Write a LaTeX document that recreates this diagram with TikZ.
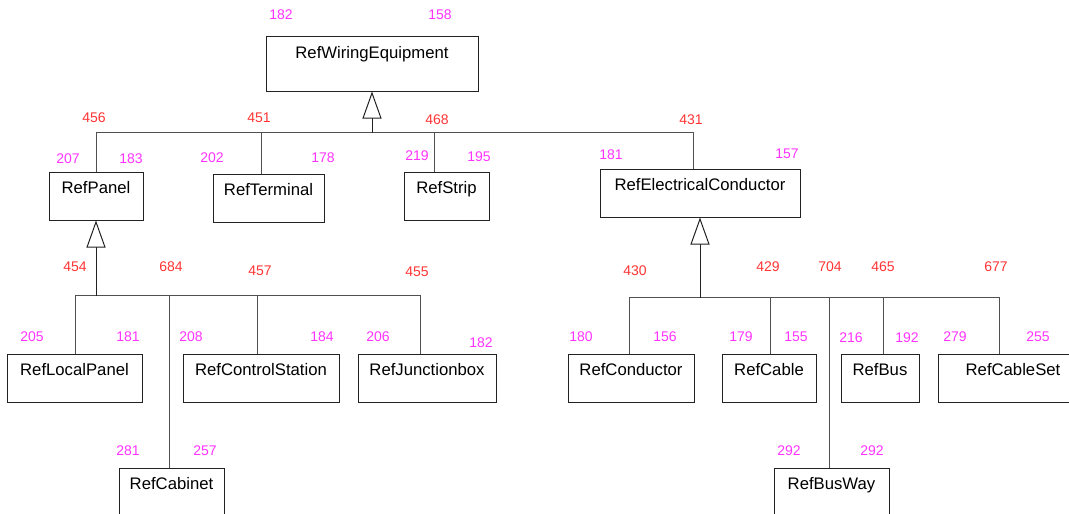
\documentclass[tikz,border=0pt]{standalone}
\usepackage{fontspec}
\setmainfont{Liberation Sans}
\usetikzlibrary{arrows.meta}
\definecolor{numred}{HTML}{FF3333}
\definecolor{nummag}{HTML}{FF33FF}
\definecolor{boxline}{HTML}{222222}
\definecolor{conline}{HTML}{505050}
\newcommand{\bxt}[1]{\raisebox{2.5pt}[0pt][0pt]{#1}}
\tikzset{
  cls/.style={draw=boxline, line width=1pt, fill=white, rectangle, minimum height=48pt, inner sep=0pt,
    font=\fontsize{16.7}{19}\selectfont},
  rn/.style={text=numred, inner sep=0pt, font=\fontsize{14}{15}\selectfont},
  mn/.style={text=nummag, inner sep=0pt, font=\fontsize{14}{15}\selectfont},
  con/.style={draw=conline, line width=1pt},
  inh/.style={draw=boxline, line width=1pt, -{Triangle[open, length=27pt, width=19pt, line width=1pt, fill=white]}},
}
\begin{document}
\begin{tikzpicture}[x=1pt, y=-1pt]
\useasboundingbox (0,0) rectangle (1069,514);
\clip (0,0) rectangle (1069,514);

% ---- boxes ----
\node[cls, minimum width=212pt, minimum height=55pt] (we) at (372,63.5) {\raisebox{5.5pt}[0pt][0pt]{RefWiringEquipment}};
\node[cls, minimum width=94pt] (panel) at (96,196) {\bxt{RefPanel}};
\node[cls, minimum width=111pt] (term) at (268.5,198) {\bxt{RefTerminal}};
\node[cls, minimum width=85pt] (strip) at (446.5,196) {\bxt{RefStrip}};
\node[cls, minimum width=200pt] (elec) at (700,193) {\bxt{RefElectricalConductor}};
\node[cls, minimum width=135pt] (localp) at (74.5,378) {\bxt{RefLocalPanel}};
\node[cls, minimum width=156pt] (ctrl) at (261,378) {\bxt{RefControlStation}};
\node[cls, minimum width=138pt] (junc) at (427,378) {\bxt{RefJunctionbox}};
\node[cls, minimum width=105pt] (cab) at (171.5,492) {\bxt{RefCabinet}};
\node[cls, minimum width=126pt] (cond) at (631,378) {\bxt{RefConductor}};
\node[cls, minimum width=94pt] (cable) at (769,378) {\bxt{RefCable}};
\node[cls, minimum width=78pt] (bus) at (880,378) {\bxt{RefBus}};
\node[cls, minimum width=150pt] (cset) at (1013,378) {\bxt{RefCableSet}};
\node[cls, minimum width=115pt] (busway) at (831.5,492) {\bxt{RefBusWay}};

% ---- connector coordinates ----
\coordinate (j1) at (372,132.5);
\coordinate (j2) at (96,295.5);
\coordinate (j3) at (700,297.5);

% ---- tree 1 ----
\draw[con] (panel.north -| 96,0) |- (j1) -| (elec.north -| 693,0);
\draw[con] (term.north -| 261,0) -- (261,132.5);
\draw[con] (strip.north -| 434,0) -- (434,132.5);
\draw[inh] (j1) -- (we.south);

% ---- tree 2 ----
\draw[con] (localp.north -| 75,0) |- (j2) -| (junc.north -| 420,0);
\draw[con] (cab.north -| 169,0) -- (169,295.5);
\draw[con] (ctrl.north -| 257,0) -- (257,295.5);
\draw[inh] (j2) -- (panel.south);

% ---- tree 3 ----
\draw[con] (cond.north -| 629,0) |- (j3) -| (cset.north -| 999,0);
\draw[con] (cable.north -| 770,0) -- (770,297.5);
\draw[con] (busway.north -| 829,0) -- (829,297.5);
\draw[con] (bus.north -| 883,0) -- (883,297.5);
\draw[inh] (j3) -- (elec.south);

% ---- numbers ----
\node[mn] (n1) at (281,15) {182};
\node[mn] (n2) at (440,15) {158};
\node[rn] (n3) at (94,118) {456};
\node[rn] (n4) at (259,118) {451};
\node[rn] (n5) at (437,120) {468};
\node[rn] (n6) at (691,120) {431};
\node[mn] (n7) at (68,159) {207};
\node[mn] (n8) at (131,159) {183};
\node[mn] (n9) at (212,158) {202};
\node[mn] (n10) at (323,158) {178};
\node[mn] (n11) at (417,156) {219};
\node[mn] (n12) at (479,157) {195};
\node[mn] (n13) at (611,155) {181};
\node[mn] (n14) at (787,154) {157};
\node[rn] (n15) at (75,267) {454};
\node[rn] (n16) at (171,267) {684};
\node[rn] (n17) at (260,271) {457};
\node[rn] (n18) at (417,272) {455};
\node[mn] (n19) at (32,337) {205};
\node[mn] (n20) at (128,337) {181};
\node[mn] (n21) at (191,337) {208};
\node[mn] (n22) at (322,337) {184};
\node[mn] (n23) at (378,337) {206};
\node[mn] (n24) at (481,343) {182};
\node[mn] (n25) at (128,451) {281};
\node[mn] (n26) at (205,451) {257};
\node[rn] (n27) at (635,271) {430};
\node[rn] (n28) at (768,267) {429};
\node[rn] (n29) at (830,267) {704};
\node[rn] (n30) at (883,267) {465};
\node[rn] (n31) at (996,267) {677};
\node[mn] (n32) at (581,337) {180};
\node[mn] (n33) at (665,337) {156};
\node[mn] (n34) at (741,337) {179};
\node[mn] (n35) at (796,337) {155};
\node[mn] (n36) at (851,338) {216};
\node[mn] (n37) at (907,338) {192};
\node[mn] (n38) at (955,337) {279};
\node[mn] (n39) at (1038,337) {255};
\node[mn] (n40) at (789,451) {292};
\node[mn] (n41) at (872,451) {292};
\end{tikzpicture}
\end{document}
